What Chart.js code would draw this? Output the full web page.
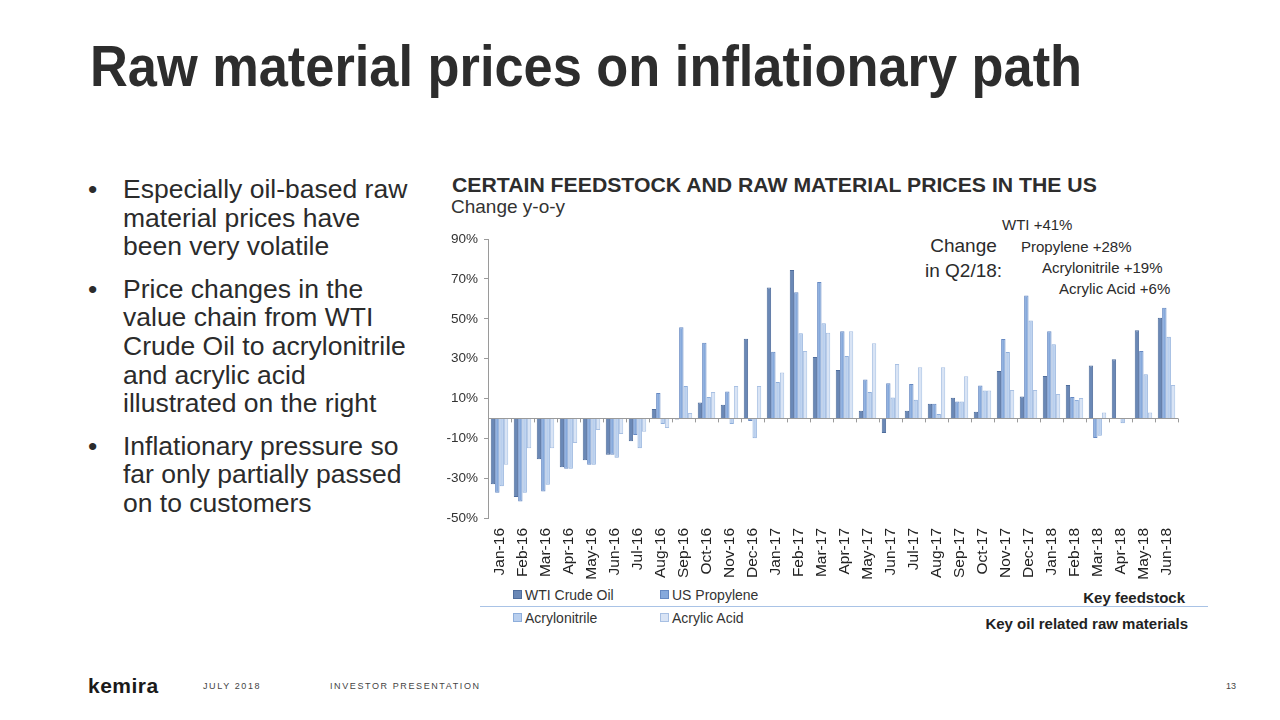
<!DOCTYPE html>
<html>
<head>
<meta charset="utf-8">
<script src="https://cdn.jsdelivr.net/npm/chart.js@4.4.1/dist/chart.umd.min.js"></script>
<style>
  body { margin: 0; width: 1280px; height: 720px; background: #fff; position: relative; overflow: hidden;
         font-family: "Liberation Sans", Arial, sans-serif; color: #2b2b2b; }
  .abs { position: absolute; white-space: nowrap; }
  #title { left: 90px; top: 33px; font-size: 57px; font-weight: bold; color: #2d2d2d; transform-origin: left top; }
  #bullets { left: 88px; top: 175px; font-size: 26.5px; line-height: 28.6px; color: #2b2b2b; }
  #bullets .b { position: relative; padding-left: 35px; margin-bottom: 14px; }
  #bullets .b:before { content: "\2022"; position: absolute; left: 0; top: 0; }
  #ctitle { left: 452px; top: 174px; font-size: 20px; font-weight: bold; color: #2d2d2d; transform-origin: left top; }
  #csub { left: 451px; top: 196px; font-size: 19px; color: #333; transform-origin: left top; }
  .ann { font-size: 15px; color: #2b2b2b; }
  .chg { font-size: 19px; color: #2b2b2b; text-align: center; line-height: 25px; }
  #chartBox { position: absolute; left: 430px; top: 225px; width: 770px; height: 360px; }
  .leg { font-size: 14px; color: #333; }
  .leg i { display: inline-block; width: 7px; height: 7px; margin-right: 3px; vertical-align: 1px; border: 1px solid; }
  .key { font-size: 15px; font-weight: bold; color: #222; }
  #sep { left: 480px; top: 606px; width: 728px; height: 1px; background: #a9c3e6; }
  .foot { font-size: 9px; letter-spacing: 1.6px; color: #444; }
</style>
</head>
<body>
<div id="title" class="abs">Raw material prices on inflationary path</div>

<div id="bullets" class="abs">
  <div class="b">Especially oil-based raw<br>material prices have<br>been very volatile</div>
  <div class="b">Price changes in the<br>value chain from WTI<br>Crude Oil to acrylonitrile<br>and acrylic acid<br>illustrated on the right</div>
  <div class="b">Inflationary pressure so<br>far only partially passed<br>on to customers</div>
</div>

<div id="ctitle" class="abs">CERTAIN FEEDSTOCK AND RAW MATERIAL PRICES IN THE US</div>
<div id="csub" class="abs">Change y-o-y</div>

<div class="abs chg" style="left:925px; top:233px;">Change<br>in Q2/18:</div>
<div class="abs ann" style="left:1002px; top:216px;">WTI +41%</div>
<div class="abs ann" style="left:1021px; top:238px;">Propylene +28%</div>
<div class="abs ann" style="left:1042px; top:259px;">Acrylonitrile +19%</div>
<div class="abs ann" style="left:1059px; top:280px;">Acrylic Acid +6%</div>

<div id="chartBox"><canvas id="barChart"></canvas></div>

<div id="legend"></div>
<div id="sep" class="abs"></div>
<div class="abs key" style="right:95px; top:589px;">Key feedstock</div>
<div class="abs key" style="right:92px; top:615px;">Key oil related raw materials</div>

<div class="abs" style="left:88px; top:674px; font-size:21px; font-weight:bold; color:#1a1a1a; letter-spacing:0.5px;">kemira</div>
<div class="abs foot" style="left:203px; top:681px;">JULY 2018</div>
<div class="abs foot" style="left:330px; top:681px;">INVESTOR PRESENTATION</div>
<div class="abs foot" style="left:1226px; top:681px; letter-spacing:0;">13</div>

<script>
// Year-over-year change in %
const months = ['Jan-16','Feb-16','Mar-16','Apr-16','May-16','Jun-16','Jul-16','Aug-16','Sep-16','Oct-16',
                'Nov-16','Dec-16','Jan-17','Feb-17','Mar-17','Apr-17','May-17','Jun-17','Jul-17','Aug-17',
                'Sep-17','Oct-17','Nov-17','Dec-17','Jan-18','Feb-18','Mar-18','Apr-18','May-18','Jun-18'];

const wtiCrude = [-33, -39.5, -20.5, -24.5, -21, -18.3, -11.5, 4.7, -0.5, 8, 6.8, 40, 65.7, 74.5, 30.8,
                  24.3, 3.8, -7.3, 3.8, 7.3, 10.3, 3.3, 23.8, 11, 21.3, 16.7, 26.5, 29.7, 44.3, 50.5];
const usPropylene = [-37.3, -41.7, -36.7, -25.3, -23.3, -18.3, -8.3, 12.7, 45.8, 38, 13.5, -1.3, 33.5, 63.3, 68.5,
                     43.7, 19.5, 17.7, 17.3, 7.3, 8.5, 16.5, 39.8, 61.7, 43.8, 10.8, -9.8, 0, 33.8, 55.5];
const acrylonitrile = [-34, -37.3, -33.3, -25.3, -23.3, -19.8, -15, -2.8, 16.3, 10.8, -2.8, -10, 18.3, 42.8, 47.7,
                       31.3, 13.2, 10.5, 9.3, 2.2, 8.5, 14, 33.3, 49.2, 37.2, 9.2, -8.7, -2.5, 22.2, 41];
const acrylicAcid = [-23.3, -15, -15, -12.3, -5.8, -7.8, -6.7, -4.8, 2.7, 13.2, 16.3, 16.3, 23, 33.8, 43,
                     43.7, 37.7, 27.3, 25.7, 25.7, 21.2, 14, 14.2, 14.2, 12.3, 10.2, 3, 0, 3, 16.7];

const yTicks = [-50, -30, -10, 10, 30, 50, 70, 90];

const seriesNames = ['WTI Crude Oil', 'US Propylene', 'Acrylonitrile', 'Acrylic Acid'];
const seriesFill = ['#6a88b6', '#86a9dc', '#b9cfee', '#d9e4f5'];
const seriesLine = ['#4f6d9c', '#6689c2', '#8eaedb', '#a8c0e3'];
const seriesData = [wtiCrude, usPropylene, acrylonitrile, acrylicAcid];

// fit condensed-looking headings to the widths in the slide
function squeeze(id, w){
    const el = document.getElementById(id);
    el.style.transform = 'scaleX(' + (w / el.offsetWidth) + ')';
}
squeeze('title', 992);
squeeze('ctitle', 645);

// zero line plus the little category ticks on it
const zeroLine = {
    id: 'zeroLine',
    afterDatasetsDraw(chart){
        const ctx = chart.ctx, y = chart.scales.y;
        const y0 = y.getPixelForValue(0);
        ctx.save();
        ctx.strokeStyle = '#9a9a9a';
        ctx.lineWidth = 1;
        ctx.beginPath();
        ctx.moveTo(chart.chartArea.left, Math.round(y0) + 0.5);
        ctx.lineTo(chart.chartArea.right, Math.round(y0) + 0.5);
        const step = (chart.chartArea.right - chart.chartArea.left) / months.length;
        for (let i = 1; i <= months.length; i++){
            const px = Math.round(chart.chartArea.left + i * step) + 0.5;
            ctx.moveTo(px, y0);
            ctx.lineTo(px, y0 + 4);
        }
        ctx.stroke();
        ctx.restore();
    }
};

const ctx = document.getElementById('barChart');
const barChart = new Chart(ctx, {
    type: 'bar',
    data: {
        labels: months,
        datasets: seriesData.map((d, i) => ({
            label: seriesNames[i],
            data: d,
            backgroundColor: seriesFill[i],
            borderColor: seriesLine[i],
            borderWidth: 1,
            categoryPercentage: 0.76,
            barPercentage: 1.0
        }))
    },
    options: {
        responsive: true,
        maintainAspectRatio: false,
        animation: false,
        layout: { padding: { top: 13, right: 22, left: 0, bottom: 0 } },
        scales: {
            x: {
                grid: { display: false },
                border: { display: false },
                ticks: {
                    minRotation: 90, maxRotation: 90, autoSkip: false,
                    color: '#222', padding: 2,
                    font: { family: 'Liberation Sans', size: 15.5 }
                },
                afterFit(scale){ scale.height = 67; }
            },
            y: {
                min: -50, max: 90,
                afterBuildTicks(scale){ scale.ticks = yTicks.map(v => ({ value: v })); },
                grid: { drawOnChartArea: false, drawTicks: true, tickLength: 4, color: '#9a9a9a' },
                border: { display: true, color: '#9a9a9a' },
                ticks: {
                    color: '#333', padding: 6,
                    font: { family: 'Liberation Sans', size: 13.5 },
                    callback: v => v + '%'
                },
                afterFit(scale){ scale.width = 58; }
            }
        },
        plugins: {
            legend: { display: false },
            tooltip: { enabled: false }
        }
    },
    plugins: [zeroLine]
});

// two-row legend, like the slide
const legend = document.getElementById('legend');
const legPos = [[513, 587], [660, 587], [513, 610], [660, 610]];
seriesNames.forEach((n, i) => {
    const d = document.createElement('div');
    d.className = 'abs leg';
    d.style.left = legPos[i][0] + 'px';
    d.style.top = legPos[i][1] + 'px';
    d.innerHTML = '<i style="background:' + seriesFill[i] + ';border-color:' + seriesLine[i] + '"></i>' + n;
    legend.appendChild(d);
});
</script>
</body>
</html>
